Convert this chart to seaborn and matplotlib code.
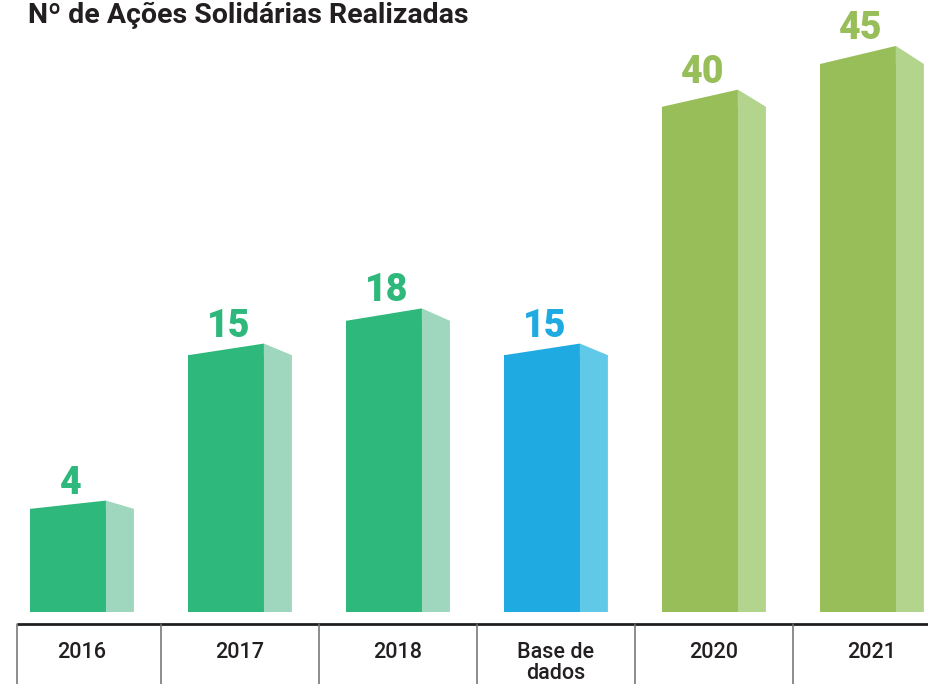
import numpy as np
import pandas as pd
import seaborn as sns
import matplotlib
matplotlib.use("Agg")
import matplotlib.pyplot as plt
from matplotlib.patches import Polygon
from matplotlib.lines import Line2D
from matplotlib.transforms import blended_transform_factory

# --- data -------------------------------------------------------------
categories = ["2016", "2017", "2018", "Base de\ndados", "2020", "2021"]
values = [4, 15, 18, 15, 40, 45]

# --- palette (front face / shaded side face) --------------------------
front_colors = ["#2EB87C", "#2EB87C", "#2EB87C", "#20AAE2", "#98BE5A", "#98BE5A"]
side_colors = ["#9FD6BE", "#9FD6BE", "#9FD6BE", "#60C9E8", "#B3D48D", "#B3D48D"]
text_dark = "#231F20"
divider_gray = "#6D6E71"

sns.set_theme(style="white")
plt.rcParams["font.family"] = ["Roboto", "DejaVu Sans"]

W, H = 929, 684
fig = plt.figure(figsize=(W / 100, H / 100), dpi=100)
fig.patch.set_facecolor("white")

base_px = 612
ax = fig.add_axes([0, (H - base_px) / H, 1, base_px / H])

# compressed vertical scale used for the bar heights
P = 0.69
fwd = lambda v: np.sign(v) * np.abs(v) ** P
inv = lambda v: np.sign(v) * np.abs(v) ** (1 / P)
ax.set_yscale("function", functions=(fwd, inv))

front_w = 0.48
side_w = 0.177
shift = -(front_w + side_w) / 2 + front_w / 2

df = pd.DataFrame({"cat": categories, "val": values})
sns.barplot(data=df, x="cat", y="val", hue="cat", order=categories,
            hue_order=categories, palette=front_colors, width=front_w,
            saturation=1, legend=False, linewidth=0, ax=ax)

ax.set_xlim(-82 / 158, (W - 82) / 158)
ymax = inv(fwd(45) * base_px / (base_px - 64))
ax.set_ylim(0, ymax)
ax.set_axis_off()

bars = sorted(ax.patches, key=lambda p: p.get_x())
to_data = ax.transData.inverted()
for i, (p, v) in enumerate(zip(bars, values)):
    p.set_x(p.get_x() + shift)
    x0 = p.get_x()
    x1 = x0 + p.get_width()
    x2 = x1 + side_w
    top = p.get_height()
    bx, by = ax.transData.transform((x0, 0))
    tx, ty = ax.transData.transform((x0, top))
    rise = 6 + 0.022 * (ty - by)
    peak = to_data.transform((tx, ty + rise))[1]
    overlap = to_data.transform((tx, ty - 4))[1]
    # slanted top of the front face (overlaps the bar body to hide the seam)
    ax.add_patch(Polygon([(x0, overlap), (x0, top), (x1, peak), (x1, overlap)],
                         closed=True, facecolor=front_colors[i], lw=0))
    # shaded side face
    ax.add_patch(Polygon([(x1, 0), (x1, peak), (x2, top), (x2, 0)], closed=True,
                         facecolor=side_colors[i], lw=0))
    ax.annotate(f"{v}", xy=((x0 + x1) / 2 + 0.02, peak), xytext=(0, 5),
                textcoords="offset points", ha="center", va="baseline",
                fontsize=27, fontweight="black", color=front_colors[i],
                annotation_clip=False)

# --- category table below the bars ------------------------------------
tr = blended_transform_factory(ax.transData, fig.transFigure)
table_top = 1 - 624 / H
left_edge = (17 - 82) / 158
fig.add_artist(Line2D([left_edge, (W - 82) / 158], [table_top, table_top],
                      transform=tr, color=text_dark, lw=2.0, solid_capstyle="butt"))
for xd in [left_edge] + [i + 0.5 for i in range(len(categories) - 1)]:
    fig.add_artist(Line2D([xd, xd], [table_top, 0], transform=tr,
                          color=divider_gray, lw=1.1))
for i, c in enumerate(categories):
    for k, line in enumerate(c.split("\n")):
        fig.text(i, 1 - (658 + 21 * k) / H, line, transform=tr, ha="center",
                 va="baseline", fontsize=15.5, fontweight="medium", color=text_dark)

fig.text(28 / W, 1 - 23 / H, "Nº de Ações Solidárias Realizadas",
         ha="left", va="baseline", fontsize=20.5, fontweight="bold", color=text_dark)

fig.savefig("out.png", dpi=100)
